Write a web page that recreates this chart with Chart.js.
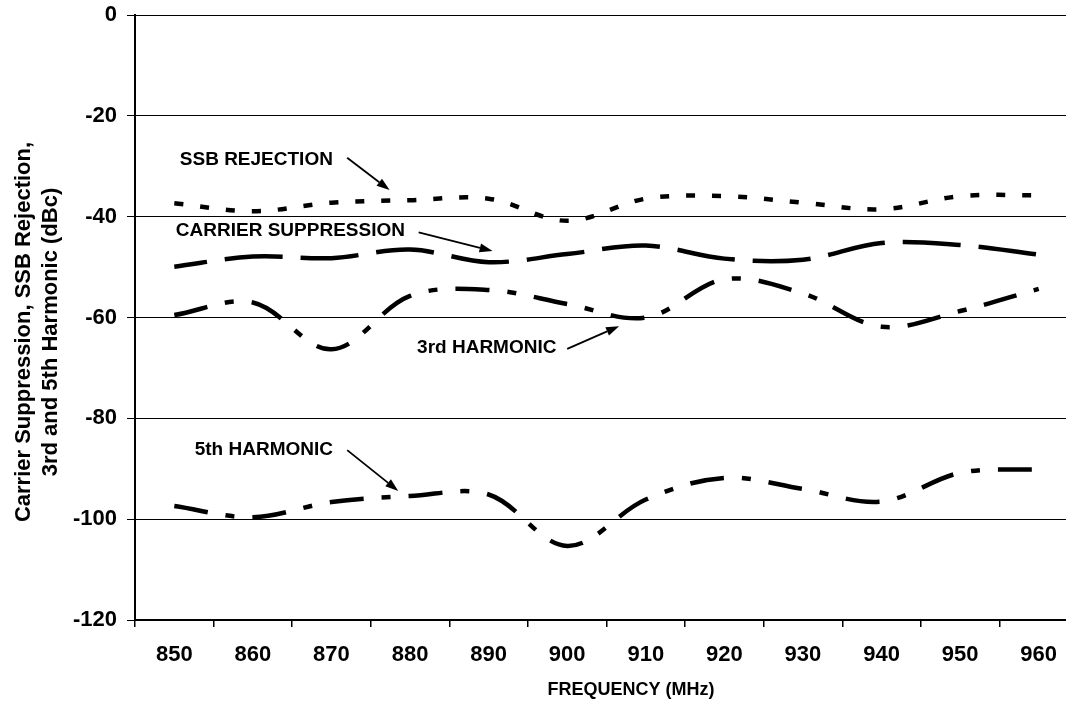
<!DOCTYPE html>
<html>
<head>
<meta charset="utf-8">
<script src="https://cdn.jsdelivr.net/npm/chart.js@4"></script>
<style>
  html, body { margin: 0; padding: 0; background: #fff; overflow: hidden; width: 1066px; height: 713px; }
  /* canvas is a bit wider than the page: the plot runs off the right edge like the original */
  #wrap { width: 1080px; height: 721px; margin-top: -8px; }
</style>
</head>
<body>
<div id="wrap"><canvas id="chart" width="1080" height="721"></canvas></div>
<script>
// frequency points (MHz), one per category
const freqs = [850, 860, 870, 880, 890, 900, 910, 920, 930, 940, 950, 960];

// values (dBc)
const ssbRejection       = [-37.3, -38.9, -37.2, -36.7, -36.4, -40.8, -36.4, -35.9, -37.2, -38.5, -35.9, -35.7];
const carrierSuppression = [-49.9, -47.9, -48.2, -46.5, -49.0, -47.4, -45.7, -48.3, -48.5, -45.2, -45.6, -47.5];
const harmonic3          = [-59.5, -57.0, -66.3, -55.7, -54.5, -57.3, -60.0, -52.4, -55.2, -61.8, -58.7, -54.3];
const harmonic5          = [-97.4, -99.6, -96.6, -95.4, -95.1, -105.3, -96.1, -91.8, -94.0, -96.5, -90.8, -90.1];

// callout labels, placed in data units: [category index, dBc]
const calloutText = ['SSB REJECTION', 'CARRIER SUPPRESSION', '3rd HARMONIC', '5th HARMONIC'];
const calloutAt   = [[0.07, -28.7], [0.02, -42.8], [3.09, -66.0], [0.26, -86.3]];
const arrowFrom   = [[2.20, -28.3], [3.11, -43.1], [5.00, -66.2], [2.20, -86.3]];
const arrowTo     = [[2.74, -34.7], [4.05, -46.8], [5.66, -61.7], [2.85, -94.4]];

const yTitle = ['Carrier Suppression, SSB Rejection,', '3rd and 5th Harmonic (dBc)'];
const xTitle = 'FREQUENCY (MHz)';

const FONT = "'Liberation Sans', Arial, sans-serif";
const SHIFT = 8; // canvas is pulled up by this much

function arrow(ctx, x1, y1, x2, y2) {
    const a = Math.atan2(y2 - y1, x2 - x1);
    const len = 13, half = 4.5;
    const bx = x2 - len * Math.cos(a), by = y2 - len * Math.sin(a);
    ctx.beginPath();
    ctx.moveTo(x1, y1);
    ctx.lineTo(bx, by);
    ctx.stroke();
    ctx.beginPath();
    ctx.moveTo(x2, y2);
    ctx.lineTo(bx + half * Math.sin(a), by - half * Math.cos(a));
    ctx.lineTo(bx - half * Math.sin(a), by + half * Math.cos(a));
    ctx.closePath();
    ctx.fill();
}

// draws callouts and both axis titles
const labelsPlugin = {
    id: 'labels',
    afterDraw(chart) {
        const ctx = chart.ctx;
        const xs = chart.scales.x, ys = chart.scales.y;
        ctx.save();
        ctx.fillStyle = '#000';
        ctx.strokeStyle = '#000';
        ctx.lineWidth = 1.8;
        ctx.font = 'bold 19px ' + FONT;
        ctx.textBaseline = 'middle';
        ctx.textAlign = 'left';
        calloutText.forEach((t, i) => {
            ctx.fillText(t, xs.getPixelForValue(calloutAt[i][0]), ys.getPixelForValue(calloutAt[i][1]));
            arrow(ctx,
                xs.getPixelForValue(arrowFrom[i][0]), ys.getPixelForValue(arrowFrom[i][1]),
                xs.getPixelForValue(arrowTo[i][0]), ys.getPixelForValue(arrowTo[i][1]));
        });

        // x title
        ctx.font = 'bold 18px ' + FONT;
        ctx.textAlign = 'center';
        ctx.fillText(xTitle, 631, 690 + SHIFT);

        // y title, two lines rotated
        ctx.font = 'bold 22px ' + FONT;
        ctx.textBaseline = 'alphabetic';
        yTitle.forEach((t, i) => {
            ctx.save();
            ctx.translate(30 + i * 27, 332 + SHIFT);
            ctx.rotate(-Math.PI / 2);
            ctx.fillText(t, 0, 0);
            ctx.restore();
        });
        ctx.restore();
    }
};

const tickFont = { family: FONT, size: 22, weight: 'bold' };

new Chart(document.getElementById('chart'), {
    type: 'line',
    data: {
        labels: freqs.map(String),
        datasets: [
            { label: 'SSB REJECTION', data: ssbRejection, borderDash: [9, 17] },
            { label: 'CARRIER SUPPRESSION', data: carrierSuppression, borderDash: [58, 18], borderDashOffset: 25 },
            { label: '3rd HARMONIC', data: harmonic3, borderDash: [34, 18, 9, 18] },
            { label: '5th HARMONIC', data: harmonic5, borderDash: [34, 18, 9, 18] }
        ]
    },
    options: {
        responsive: false,
        animation: false,
        devicePixelRatio: 1,
        layout: { autoPadding: false, padding: { top: 15, right: 2, left: 0, bottom: 0 } },
        elements: {
            point: { radius: 0 },
            line: { borderColor: '#000', borderWidth: 4.5, tension: 0.35, fill: false, borderCapStyle: 'butt' }
        },
        plugins: { legend: { display: false }, tooltip: { enabled: false } },
        scales: {
            x: {
                offset: true,
                grid: { offset: true, drawOnChartArea: false, drawTicks: true, tickLength: 7, color: '#000', lineWidth: 1.5 },
                border: { color: '#000', width: 2 },
                ticks: { color: '#000', font: tickFont, padding: 15, maxRotation: 0, autoSkip: false },
                afterFit: s => { s.height = 93; }
            },
            y: {
                min: -120,
                max: 0,
                ticks: { stepSize: 20, color: '#000', font: tickFont, padding: 10 },
                grid: { color: '#000', lineWidth: 1, tickLength: 8 },
                border: { color: '#000', width: 2 },
                afterFit: s => { s.width = 135; }
            }
        }
    },
    plugins: [labelsPlugin]
});
</script>
</body>
</html>
